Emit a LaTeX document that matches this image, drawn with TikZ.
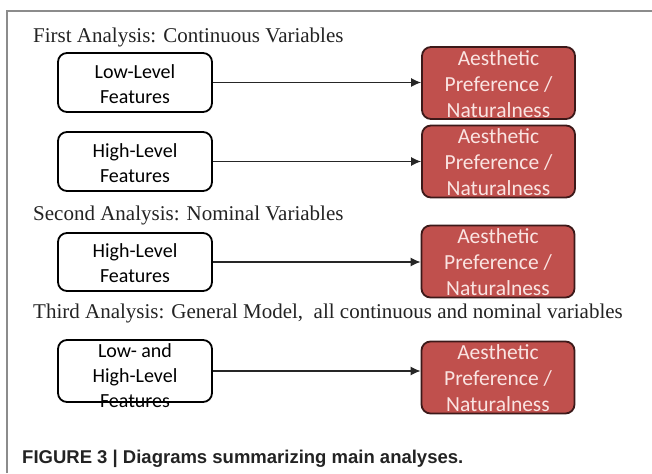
\documentclass[tikz,border=0pt]{standalone}
\usepackage{fontspec}
\setmainfont{Liberation Serif}
\newfontfamily\boxfont{Carlito}
\newfontfamily\capfont{Liberation Sans}
\usetikzlibrary{arrows.meta}
\definecolor{redfill}{RGB}{192,80,77}
\definecolor{redline}{RGB}{60,25,25}
\definecolor{redtext}{RGB}{250,228,226}
\definecolor{frameg}{RGB}{140,140,140}
\definecolor{titlec}{RGB}{35,35,35}
\tikzset{
  lbox/.style={draw=black, line width=1.8pt, fill=white, rounded corners=9pt, minimum width=154pt, inner sep=0pt},
  rbox/.style={draw=redline, line width=1.8pt, fill=redfill, rounded corners=9pt, minimum width=153pt, minimum height=72pt, inner sep=0pt},
  ltext/.style={font=\boxfont\fontsize{20}{25}\selectfont, align=center, text=black, inner sep=0pt},
  rtext/.style={font=\boxfont\fontsize{21.5}{26}\selectfont, align=center, text=redtext, inner sep=0pt},
  title/.style={font=\fontsize{21}{24}\selectfont, text=titlec, anchor=base west, inner sep=0pt},
  conn/.style={draw=black!85, line width=1.2pt, -{Latex[length=10pt,width=9pt]}},
}
\begin{document}
\begin{tikzpicture}[x=1pt,y=-1pt]
\useasboundingbox (0,0) rectangle (652,473);
\draw[frameg, line width=1.5pt] (7,473) -- (7,11) -- (652,11);
% titles
\node[title] (t1) at (33,43) {First Analysis: Continuous Variables};
\node[title] (t2) at (33,220) {Second Analysis: Nominal Variables};
\node[title] (t3) at (33,318) {Third Analysis: General Model,\ \ all continuous and nominal variables};
% left boxes
\node[lbox, minimum height=59pt] (l1) at (135,82.5) {};
\node[ltext] (l1t) at ([yshift=-2pt]l1) {Low-Level\\Features};
\node[lbox, minimum height=59pt] (l2) at (135,161.5) {};
\node[ltext] (l2t) at ([yshift=-2pt]l2) {High-Level\\Features};
\node[lbox, minimum height=58pt] (l3) at (135,262) {};
\node[ltext] (l3t) at ([yshift=-1pt]l3) {High-Level\\Features};
\node[lbox, minimum height=62pt] (l4) at (135,371) {};
\node[ltext] (l4t) at ([yshift=-5pt]l4) {Low- and\\High-Level\\Features};
% right boxes
\node[rbox] (r1) at (498.5,83) {};
\node[rtext] (r1t) at ([yshift=-1pt]r1) {Aesthetic\\Preference /\\Naturalness};
\node[rbox] (r2) at (498.5,161.5) {};
\node[rtext] (r2t) at ([yshift=-1pt]r2) {Aesthetic\\Preference /\\Naturalness};
\node[rbox] (r3) at (498,261.5) {};
\node[rtext] (r3t) at ([yshift=-1pt]r3) {Aesthetic\\Preference /\\Naturalness};
\node[rbox] (r4) at (498,377.5) {};
\node[rtext] (r4t) at ([yshift=-1pt]r4) {Aesthetic\\Preference /\\Naturalness};
% connectors
\draw[conn] (l1.east) -- (l1.east -| r1.west);
\draw[conn] (l2.east) -- (l2.east -| r2.west);
\draw[conn] (l3.east) -- (l3.east -| r3.west);
\draw[conn] (l4.east) -- (l4.east -| r4.west);
% caption
\node[font=\capfont\bfseries\fontsize{18.5}{22}\selectfont, text=titlec, anchor=base west, inner sep=0pt] (cap) at (22,463) {FIGURE 3 | Diagrams summarizing main analyses.};
\end{tikzpicture}
\end{document}
